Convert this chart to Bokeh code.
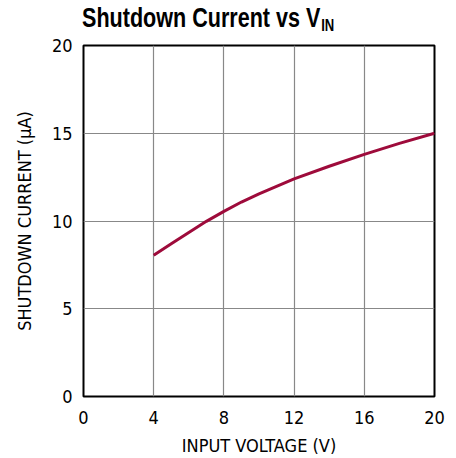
from bokeh.plotting import figure
from bokeh.models import FixedTicker, Range1d, Div
from bokeh.layouts import column
from bokeh.embed import file_html
from bokeh.resources import INLINE

# Data
input_voltage = [4, 5, 6, 7, 8, 9, 10, 12, 14, 16, 18, 20]
shutdown_current = [8.05, 8.7, 9.35, 9.98, 10.55, 11.08, 11.55, 12.4, 13.12, 13.8, 14.42, 15.0]
x_ticks = [0, 4, 8, 12, 16, 20]
y_ticks = [0, 5, 10, 15, 20]

title_main = "Shutdown Current vs V"
title_sub = "IN"
x_label = "INPUT VOLTAGE (V)"
y_label = "SHUTDOWN CURRENT (\u00b5A)"

FONT = "DejaVu Sans Condensed, DejaVu Sans, sans-serif"
LINE_COLOR = "#9e0b3b"
GRID_COLOR = "#888888"

title_div = Div(
    text=(
        '<div style="font-family:\'Liberation Sans\', Arial, sans-serif; font-weight:bold; '
        'font-size:28px; line-height:28px; color:black; white-space:nowrap; '
        'padding-left:82px; padding-top:4px;">'
        '<span style="display:inline-block; transform:scaleX(0.77); transform-origin:0 50%;">'
        f'{title_main}<span style="font-size:17px; position:relative; top:4px; margin-left:1px;">{title_sub}</span>'
        '</span></div>'
    ),
    width=456, height=35, margin=0,
)

p = figure(width=456, height=423, output_backend="svg", toolbar_location=None,
           x_range=Range1d(0, 20), y_range=Range1d(0, 20), margin=0)
p.min_border_left = 83
p.min_border_right = 22
p.min_border_top = 10
p.min_border_bottom = 60
p.background_fill_color = "white"
p.border_fill_color = "white"
p.outline_line_color = "black"
p.outline_line_width = 2

p.xaxis.ticker = FixedTicker(ticks=x_ticks)
p.yaxis.ticker = FixedTicker(ticks=y_ticks)
for ax in (p.xaxis, p.yaxis):
    ax.axis_line_color = None
    ax.major_tick_line_color = None
    ax.minor_tick_line_color = None
    ax.major_label_text_font = FONT
    ax.major_label_text_font_size = "18px"
    ax.major_label_text_color = "black"
    ax.axis_label_text_font = FONT
    ax.axis_label_text_font_size = "18px"
    ax.axis_label_text_font_style = "normal"
    ax.axis_label_text_color = "black"
p.xaxis.major_label_standoff = 8
p.yaxis.major_label_standoff = 5
p.xaxis.axis_label = x_label
p.yaxis.axis_label = y_label
p.xaxis.axis_label_standoff = 8
p.yaxis.axis_label_standoff = 14

p.xgrid.ticker = FixedTicker(ticks=x_ticks)
p.ygrid.ticker = FixedTicker(ticks=y_ticks)
p.xgrid.grid_line_color = GRID_COLOR
p.ygrid.grid_line_color = GRID_COLOR
p.xgrid.grid_line_width = 1.2
p.ygrid.grid_line_width = 1.2

p.line(input_voltage, shutdown_current, line_color=LINE_COLOR, line_width=3)

layout = column(title_div, p, spacing=0, margin=0)
open("out.html", "w").write(file_html(layout, INLINE))
